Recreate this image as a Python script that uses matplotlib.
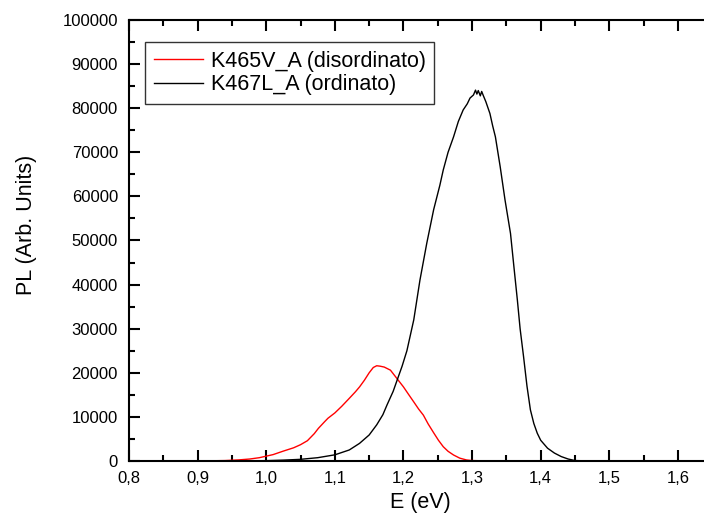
import matplotlib
matplotlib.use("Agg")
import matplotlib.pyplot as plt
from matplotlib.ticker import MultipleLocator, FuncFormatter

# PL spectra
e_dis = [0.886, 0.90, 0.92, 0.94, 0.96, 0.976, 0.99, 1.00, 1.01, 1.025, 1.04, 1.05,
         1.06, 1.07, 1.076, 1.085, 1.09, 1.10, 1.11, 1.121, 1.13, 1.136, 1.143, 1.15,
         1.156, 1.161, 1.166, 1.172, 1.181, 1.19, 1.20, 1.207, 1.215, 1.222, 1.229,
         1.236, 1.244, 1.251, 1.258, 1.265, 1.273, 1.282, 1.292, 1.30, 1.32, 1.40,
         1.50, 1.545]
pl_dis = [0, 20, 50, 100, 250, 450, 750, 1100, 1450, 2250, 3000, 3700,
          4600, 6200, 7400, 8900, 9700, 10900, 12400, 14200, 15700, 16800, 18300, 20000,
          21200, 21600, 21500, 21300, 20600, 18800, 16800, 15200, 13400, 11800, 10400,
          8400, 6400, 4700, 3240, 2200, 1360, 650, 230, 100, 30, 10,
          0, 0]

e_ord = [0.93, 0.96, 1.00, 1.025, 1.05, 1.075, 1.10, 1.121, 1.136, 1.15, 1.161, 1.17,
         1.176, 1.185, 1.19, 1.198, 1.205, 1.215, 1.224, 1.234, 1.244, 1.253, 1.258,
         1.265, 1.273, 1.28, 1.287, 1.293, 1.297, 1.302, 1.305, 1.307, 1.309, 1.312,
         1.314, 1.316, 1.32, 1.326, 1.33, 1.334, 1.341, 1.348, 1.356, 1.361, 1.366,
         1.37, 1.375, 1.38, 1.385, 1.39, 1.395, 1.40, 1.41, 1.42, 1.43, 1.44, 1.45,
         1.47, 1.50, 1.55]
pl_ord = [0, 30, 80, 200, 380, 750, 1400, 2500, 4000, 5900, 8200, 10500,
          12700, 15800, 18000, 21500, 25000, 32000, 41000, 49400, 57000, 62500, 66000,
          70000, 73500, 77000, 79600, 81000, 82300, 83000, 84100, 83200, 84000, 82800,
          83800, 83000, 81500, 78800, 76000, 73500, 66700, 59200, 51600, 44000, 36500,
          30000, 23700, 17000, 11600, 8500, 6300, 4700, 2900, 1800, 1000, 450, 100,
          20, 0, 0]

labels = ["K465V_A (disordinato)", "K467L_A (ordinato)"]

plt.rcParams['font.family'] = ['Liberation Sans', 'DejaVu Sans']

fig = plt.figure(figsize=(7.04, 5.24), dpi=100)
ax = fig.add_axes([129 / 704, 63 / 524, 1 - 129 / 704, 441 / 524])

ax.plot(e_dis, pl_dis, color="red", lw=1.0, label=labels[0])
ax.plot(e_ord, pl_ord, color="black", lw=1.0, label=labels[1])

ax.set_xlim(0.8, 1.638)
ax.set_ylim(0, 100000)

ax.xaxis.set_major_locator(MultipleLocator(0.1))
ax.xaxis.set_minor_locator(MultipleLocator(0.05))
ax.yaxis.set_major_locator(MultipleLocator(10000))
ax.yaxis.set_minor_locator(MultipleLocator(5000))
ax.xaxis.set_major_formatter(FuncFormatter(lambda v, p: f"{v:.1f}".replace(".", ",")))
ax.yaxis.set_major_formatter(FuncFormatter(lambda v, p: f"{v:.0f}"))

ax.spines["right"].set_visible(False)
for s in ["left", "bottom", "top"]:
    ax.spines[s].set_linewidth(1.5)

ax.tick_params(which="both", direction="in", top=True, right=False, width=1.5, labelsize=12)
ax.tick_params(which="major", length=8)
ax.tick_params(which="minor", length=4)
ax.tick_params(axis="y", pad=8)
ax.tick_params(axis="x", pad=7)

ax.set_xlabel("E (eV)", fontsize=15.5)
ax.set_ylabel("PL (Arb. Units)", fontsize=15.5)
ax.xaxis.set_label_coords(0.506, -0.07)
ax.yaxis.set_label_coords(-0.16, 0.535)

leg = ax.legend(loc="upper left", bbox_to_anchor=(145 / 704, 1 - 42 / 524),
                bbox_transform=fig.transFigure, fontsize=15.5, frameon=True,
                fancybox=False, edgecolor="black", borderaxespad=0,
                handlelength=2.3, handletextpad=0.35, borderpad=0.4, labelspacing=0.12)
leg.get_frame().set_linewidth(1.0)

fig.savefig("out.png", dpi=100)
